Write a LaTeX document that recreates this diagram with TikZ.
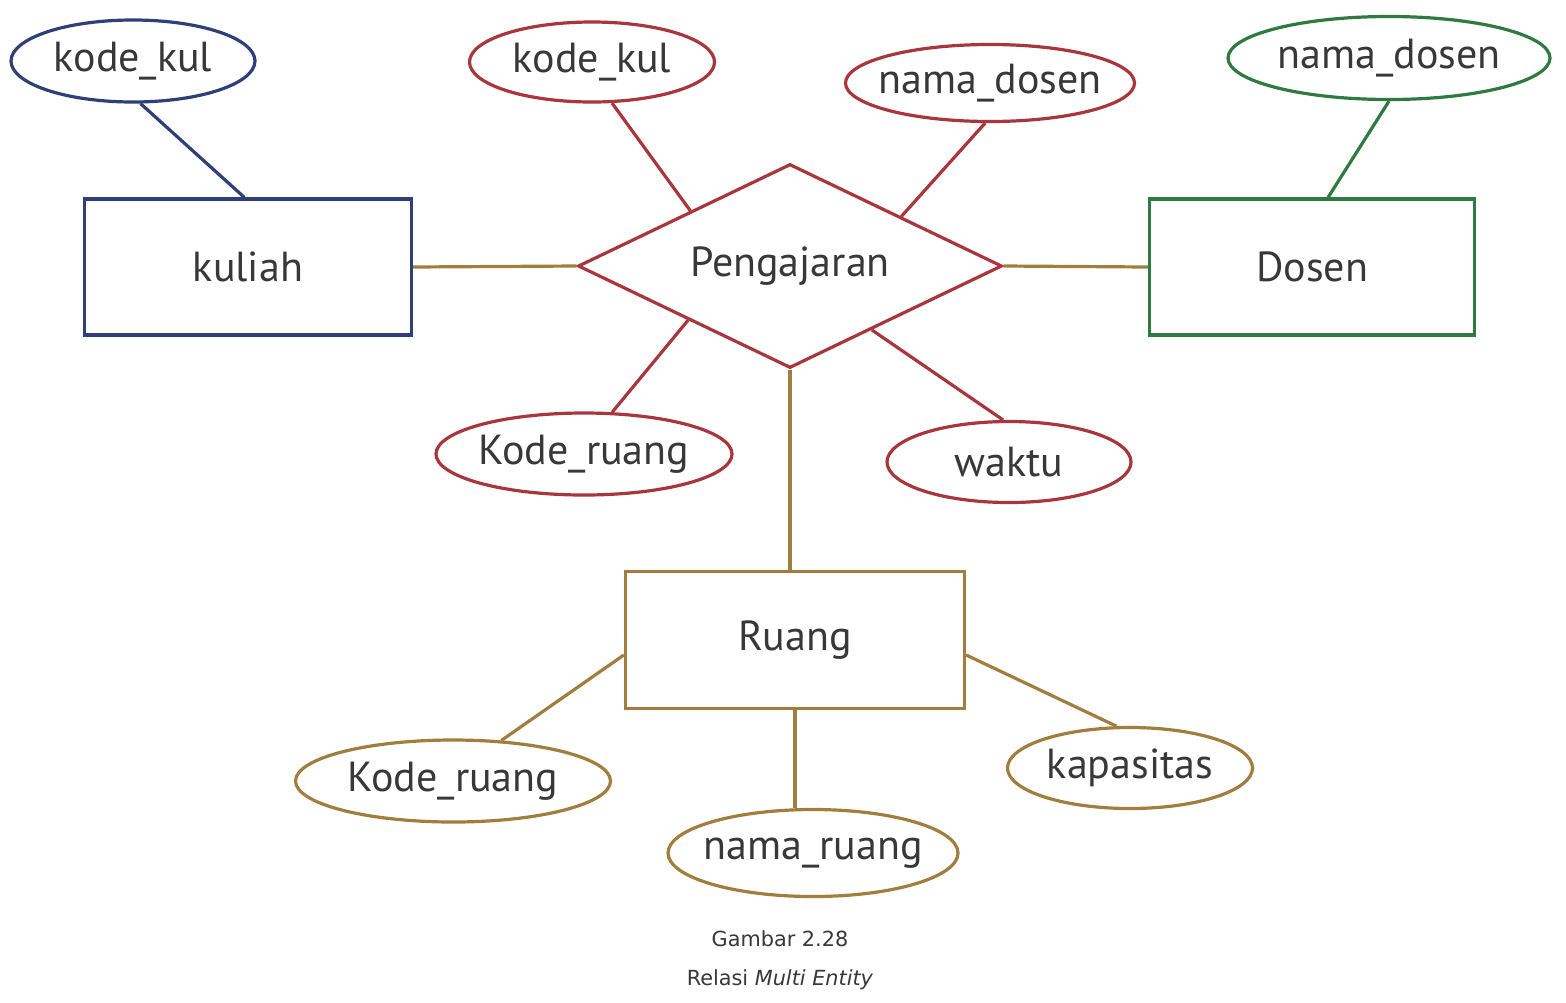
\documentclass[tikz,border=0pt]{standalone}
\usepackage{fontspec}
\setmainfont{PT Sans}
\newfontfamily\capfont{DejaVu Sans}
\usepackage{tikz}
\usetikzlibrary{shapes.geometric}
\usepackage{xcolor}
\definecolor{erblue}{HTML}{2F3F78}
\definecolor{erred}{HTML}{A8363C}
\definecolor{ergreen}{HTML}{2F7A40}
\definecolor{erbrown}{HTML}{A27E3E}
\definecolor{ertext}{HTML}{383838}

\begin{document}
\begin{tikzpicture}[x=0.5pt, y=-0.5pt, line width=1.6pt,
  ent/.style = {draw=#1, rectangle, inner sep=0pt, text=ertext, font=\fontsize{21}{25}\selectfont},
  attr/.style = {draw=#1, ellipse, inner sep=0pt, text=ertext, font=\fontsize{21}{25}\selectfont},
  rel/.style = {draw=#1, diamond, aspect=2.08, inner sep=0pt, text=ertext, font=\fontsize{21}{25}\selectfont},
  capt/.style = {text=ertext, font=\capfont\fontsize{10.4}{12}\selectfont}]
  \useasboundingbox (0,0) rectangle (1566,1002);
  % entities and relation
  \node[ent=erblue, minimum width=163.5pt, minimum height=68pt] (kuliah) at (248,267) {kuliah};
  \node[ent=ergreen, minimum width=162.5pt, minimum height=68pt] (dosen) at (1312,267) {Dosen};
  \node[ent=erbrown, minimum width=169.5pt, minimum height=68.5pt] (ruang) at (795,640) {Ruang};
  \node[rel=erred, minimum width=212pt, minimum height=102pt] (ajar) at (790,266) {Pengajaran};
  % attributes
  \node[attr=erblue, minimum width=122pt, minimum height=41pt] (kk1) at (133,61) {kode\_kul};
  \node[attr=erred, minimum width=122.5pt, minimum height=40pt] (kk2) at (592,62) {kode\_kul};
  \node[attr=erred, inner xsep=-5pt, minimum width=144.5pt, minimum height=38.5pt] (nd1) at (990,83) {nama\_dosen};
  \node[attr=ergreen, inner xsep=-2pt, minimum width=161pt, minimum height=41.5pt] (nd2) at (1389,58) {nama\_dosen};
  \node[attr=erred, inner xsep=-2pt, minimum width=148pt, minimum height=41pt] (kr1) at (584,454) {Kode\_ruang};
  \node[attr=erred, minimum width=122pt, minimum height=40.5pt] (waktu) at (1009,462) {waktu};
  \node[attr=erbrown, inner xsep=-2pt, minimum width=157.5pt, minimum height=41pt] (kr2) at (453,781) {Kode\_ruang};
  \node[attr=erbrown, inner xsep=-5pt, minimum width=145pt, minimum height=43.5pt] (nr) at (813,853) {nama\_ruang};
  \node[attr=erbrown, minimum width=122.5pt, minimum height=40.5pt] (kap) at (1130,768) {kapasitas};
  % caption
  \node[capt] (cap1) at (780,939) {Gambar 2.28};
  \node[capt] (cap2) at (780,980) {Relasi \textit{Multi Entity}};
  % connectors
  \draw[erblue] (kk1.-80) -- (kuliah.93);
  \draw[ergreen] (nd2.south) -- (dosen.77);
  \draw[erbrown] (kuliah.east) -- (ajar.west);
  \draw[erbrown] (ajar.east) -- (dosen.west);
  \draw[erred] (kk2.-64) -- (ajar.151);
  \draw[erred] (nd1.-97) -- (ajar.24);
  \draw[erred] (kr1.56) -- (ajar.-152);
  \draw[erred] (waktu.98) -- (ajar.-38);
  \draw[erbrown] (ajar.south) -- (ajar.south |- ruang.north);
  \draw[erbrown] (ruang.185) -- (kr2.40);
  \draw[erbrown] (ruang.-5) -- (kap.108);
  \draw[erbrown] (ruang.south) -- (ruang.south |- nr.north);
\end{tikzpicture}
\end{document}
